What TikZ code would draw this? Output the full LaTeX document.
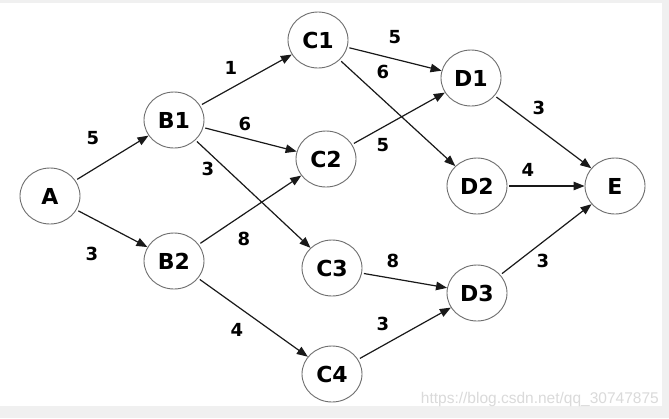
\documentclass[tikz,border=0pt]{standalone}
\usepackage{fontspec}
\setmainfont{DejaVu Sans}
\newfontfamily\wmfont{Liberation Sans}
\usetikzlibrary{arrows.meta,shapes.geometric}
\definecolor{ringgray}{RGB}{110,110,110}
\definecolor{edgegray}{RGB}{25,25,25}
\definecolor{bggray}{RGB}{240,240,240}
\definecolor{wmgray}{RGB}{218,218,218}
\begin{document}
\begin{tikzpicture}[x=1pt,y=-1pt,
  vertex/.style={draw=ringgray,line width=0.9pt,ellipse,minimum width=60pt,minimum height=56pt,inner sep=0pt,
    font=\fontsize{22}{22}\selectfont\bfseries,text=black},
  wlabel/.style={font=\fontsize{18}{18}\selectfont\bfseries,text=black,inner sep=0pt},
  arc/.style={draw=edgegray,line width=1.2pt,shorten <=2pt,-{Triangle[length=11pt,width=8.5pt]}}]
\useasboundingbox (0,0) rectangle (669,418);
\fill[bggray] (0,0) rectangle (669,418);
\fill[white] (0,3) rectangle (662,406);
\node[font=\wmfont\fontsize{15.5}{15.5}\selectfont,text=wmgray,anchor=east,inner sep=0pt] (wm) at (659,399) {https://blog.csdn.net/qq\_30747875};
\node[vertex] (A) at (50,196) {A};
\node[vertex] (B1) at (174,120) {B1};
\node[vertex] (B2) at (174,261) {B2};
\node[vertex] (C1) at (318,40) {C1};
\node[vertex] (C2) at (326,159) {C2};
\node[vertex] (C3) at (332,268) {C3};
\node[vertex] (C4) at (332,374) {C4};
\node[vertex] (D1) at (471,78) {D1};
\node[vertex] (D2) at (477,186) {D2};
\node[vertex] (D3) at (477,293) {D3};
\node[vertex] (E) at (615,186) {E};
\draw[arc] (A) -- (B1);
\draw[arc] (A) -- (B2);
\draw[arc] (B1) -- (C1);
\draw[arc] (B1) -- (C2);
\draw[arc] (B1) -- (C3);
\draw[arc] (B2) -- (C2);
\draw[arc] (B2) -- (C4);
\draw[arc] (C1) -- (D1);
\draw[arc] (C1) -- (D2);
\draw[arc] (C2) -- (D1);
\draw[arc] (C3) -- (D3);
\draw[arc] (C4) -- (D3);
\draw[arc] (D1) -- (E);
\draw[arc] (D2) -- (E);
\draw[arc] (D3) -- (E);
\node[wlabel] (lAB1) at (93,138) {5};
\node[wlabel] (lAB2) at (92,254) {3};
\node[wlabel] (lB1C1) at (231,68) {1};
\node[wlabel] (lB1C2) at (245,124) {6};
\node[wlabel] (lB1C3) at (208,169) {3};
\node[wlabel] (lB2C2) at (244,239) {8};
\node[wlabel] (lB2C4) at (237,330) {4};
\node[wlabel] (lC1D1) at (395,37) {5};
\node[wlabel] (lC1D2) at (383,72) {6};
\node[wlabel] (lC2D1) at (383,145) {5};
\node[wlabel] (lD1E) at (539,108) {3};
\node[wlabel] (lD2E) at (528,170) {4};
\node[wlabel] (lC3D3) at (393,261) {8};
\node[wlabel] (lC4D3) at (383,324) {3};
\node[wlabel] (lD3E) at (543,261) {3};
\end{tikzpicture}
\end{document}
